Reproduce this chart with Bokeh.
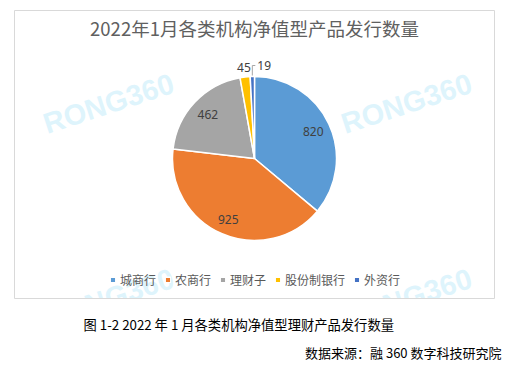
import math
from bokeh.plotting import figure
from bokeh.models import Range1d, Label, ColumnDataSource
from bokeh.core.properties import value
from bokeh.embed import file_html
from bokeh.resources import INLINE

# ---- data ----
categories = ["城商行", "农商行", "理财子", "股份制银行", "外资行"]
counts = [820, 925, 462, 45, 19]
colors = ["#5B9BD5", "#ED7D31", "#A5A5A5", "#FFC000", "#4472C4"]
title_text = "2022年1月各类机构净值型产品发行数量"
caption_text = "图 1-2 2022 年 1 月各类机构净值型理财产品发行数量"
source_text = "数据来源：融 360 数字科技研究院"
watermark_text = "RONG360"

# ---- layout (pixels; y measured upward from canvas bottom) ----
W, H = 517, 377
BOX_L, BOX_R, BOX_T, BOX_B = 14, 494, H - 10, H - 298
CX, CY, R = 254, H - 158, 82
label_rfac = [0.79, 0.81, 0.78, 1.12, None]
CJK = "Noto Sans CJK SC"

p = figure(width=W, height=H, output_backend="svg", toolbar_location=None,
           x_range=Range1d(0, W), y_range=Range1d(0, H),
           min_border=0)
p.axis.visible = False
p.grid.visible = False
p.outline_line_color = None
p.background_fill_color = "white"
p.border_fill_color = "white"

# watermarks
wm_x = [108, 406, 108, 406]
wm_y = [H - 103, H - 103, BOX_B, BOX_B]
p.text(x=wm_x, y=wm_y, text=[watermark_text] * 4, angle=18, angle_units="deg",
       text_align="center", text_baseline="middle",
       text_font=value("Liberation Sans"), text_font_style="bold",
       text_font_size="29px", text_color="#d3f1fb", text_alpha=0.75)

# white area outside the chart box (hides watermark overflow)
p.quad(left=0, right=W, bottom=0, top=BOX_B - 0.5, fill_color="white", line_color=None)

# chart box
p.quad(left=BOX_L, right=BOX_R, bottom=BOX_B, top=BOX_T, fill_color=None,
       line_color="#d9d9d9", line_width=1)

# pie
total = sum(counts)
starts, ends, mids = [], [], []
cum = 0.0
for c in counts:
    a0 = math.pi / 2 - 2 * math.pi * cum / total
    cum += c
    a1 = math.pi / 2 - 2 * math.pi * cum / total
    starts.append(a0)
    ends.append(a1)
    mids.append((a0 + a1) / 2)

src = ColumnDataSource(dict(cat=categories, start=starts, end=ends, color=colors))
p.wedge(x=CX, y=CY, radius=R, start_angle="start", end_angle="end",
        direction="clock", fill_color="color", line_color="white",
        line_width=1.5, legend_field="cat", source=src)

# data labels
lx, ly, lt = [], [], []
for i, c in enumerate(counts):
    if label_rfac[i] is None:
        continue
    lx.append(CX + label_rfac[i] * R * math.cos(mids[i]))
    ly.append(CY + label_rfac[i] * R * math.sin(mids[i]))
    lt.append(str(c))
p.text(x=lx, y=ly, text=lt, text_align="center", text_baseline="middle",
       text_font=value("Noto Sans"), text_font_size="12px", text_color="#404040")

# leader label for the smallest slice
m = mids[-1]
ex = CX + (R + 1) * math.cos(m)
ey = CY + (R + 1) * math.sin(m)
p.line(x=[ex, ex, ex + 3], y=[ey, ey + 10, ey + 10], line_color="#a6a6a6", line_width=1)
p.text(x=[ex + 5], y=[ey + 10.5], text=[str(counts[-1])], text_align="left",
       text_baseline="middle", text_font=value("Noto Sans"), text_font_size="12px",
       text_color="#404040")

# title inside the box
p.add_layout(Label(x=(BOX_L + BOX_R) / 2, y=H - 27, text=title_text, text_align="center",
                   text_baseline="middle", text_font=CJK, text_font_size="18.5px",
                   text_color="#606060"))

# captions below the box
p.add_layout(Label(x=83, y=H - 324, text=caption_text, text_align="left",
                   text_baseline="middle", text_font=CJK, text_font_size="13.3px",
                   text_color="#000000"))
p.add_layout(Label(x=501, y=H - 352, text=source_text, text_align="right",
                   text_baseline="middle", text_font=CJK, text_font_size="13px",
                   text_color="#000000"))

# legend
lg = p.legend[0]
lg.orientation = "horizontal"
lg.location = (109, H - 298 + 10)
lg.label_text_font = CJK
lg.label_text_font_size = "12px"
lg.label_text_color = "#595959"
lg.glyph_width = 7
lg.glyph_height = 7
lg.label_standoff = 4
lg.spacing = 8
lg.padding = 0
lg.margin = 0
lg.border_line_alpha = 0
lg.background_fill_alpha = 0

open("out.html", "w").write(file_html(p, INLINE))
